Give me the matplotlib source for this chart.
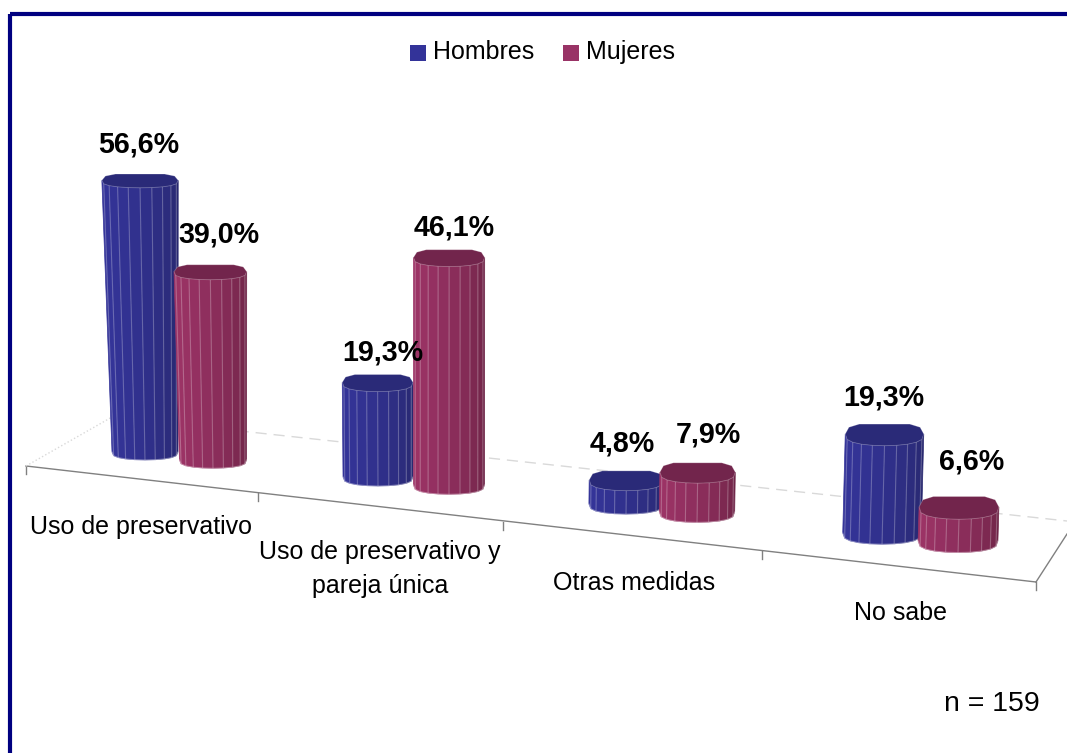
import numpy as np
import matplotlib
matplotlib.use("Agg")
import matplotlib.pyplot as plt
from matplotlib.patches import Polygon, Rectangle

plt.rcParams['font.family'] = ['Liberation Sans', 'DejaVu Sans']

# Data
categories = ["Uso de preservativo", "Uso de preservativo y\npareja única", "Otras medidas", "No sabe"]
series_names = ["Hombres", "Mujeres"]
hombres = [56.6, 19.3, 4.8, 19.3]
mujeres = [39.0, 46.1, 7.9, 6.6]

# Floor position of each cylinder, in pixels
floor_x = [[145, 378, 626, 882], [213, 449, 697, 958]]
floor_y = [[452, 477, 504, 533], [460, 485, 512, 541]]
# Offset of the value label from the top of the cylinder
label_dx = [[-1, 5, -4, -1], [9, 5, 11, 13]]
label_dy = [[-36, -30, -36, -36], [-37, -30, -38, -45]]
# Category label centres
cat_x = [141, 380, 634, 900]
cat_y = [527, 569, 583, 613]

# left/right side colours, cap colour
side_colors = [("#343499", "#28286f"), ("#9c3366", "#6e2447")]
cap_colors = ["#2a2a78", "#72254c"]
legend_colors = ["#333399", "#993366"]


def fmt(v):
    return f"{v:.1f}%".replace(".", ",")


def mix(c1, c2, t):
    a = np.array(matplotlib.colors.to_rgb(c1))
    b = np.array(matplotlib.colors.to_rgb(c2))
    return a + (b - a) * t


def ring(cx, cy, rx, ry, angles):
    # slightly squared ellipse so it looks faceted like the 3D chart
    t = np.radians(angles)
    x = cx + rx * np.cos(t)
    y = cy - ry * np.sign(np.sin(t)) * np.abs(np.sin(t)) ** 0.65
    return np.column_stack([x, y])


def cylinder(ax, bx, by, value, colors, cap):
    # projection: further right gets bigger, lines lean away from x=442
    top_x = bx + (bx - 442) * 0.000296 * value
    top_y = by - value * (4.8 + (bx - 145) * 0.00045)
    rx_bot = 33 + (bx - 145) * 0.0085
    rx_top = rx_bot + max(450 - bx, 0) * 0.0003 * value
    ry_bot = 7 + 0.0037 * (by - 181) + 0.004 * (bx - 145)
    ry_top = 7.5 + 0.0037 * (top_y - 181) + 0.0045 * (bx - 145)

    front = np.arange(180, 361, 18)
    low = ring(bx, by, rx_bot, ry_bot, front)
    up = ring(top_x, top_y, rx_top, ry_top, front)
    n = len(front) - 1
    for k in range(n):
        poly = [up[k], up[k + 1], low[k + 1], low[k]]
        col = mix(colors[0], colors[1], (k / (n - 1)) ** 1.6)
        ax.add_patch(Polygon(poly, closed=True, facecolor=col, edgecolor=col, lw=0.5, zorder=by / 100))
        if k > 0:
            ax.plot([up[k][0], low[k][0]], [up[k][1], low[k][1]], color="white", alpha=0.25, lw=0.8,
                    zorder=by / 100 + 0.001)
    # outline of the body
    ax.plot(low[:, 0], low[:, 1], color="white", alpha=0.35, lw=0.8, zorder=by / 100 + 0.001)
    back = [0, 25, 50, 130, 155, 180]
    cap_pts = np.vstack([ring(top_x, top_y, rx_top, ry_top, back), up[1:]])
    ax.add_patch(Polygon(cap_pts, closed=True, facecolor=cap, edgecolor=matplotlib.colors.to_rgba("white", 0.25),
                         lw=0.6, zorder=by / 100 + 0.002))
    return top_x, top_y


fig = plt.figure(figsize=(10.67, 7.53), dpi=100)
ax = fig.add_axes([0, 0, 1, 1])
ax.set_xlim(0, 1067)
ax.set_ylim(753, 0)
ax.axis("off")

# Frame
ax.add_patch(Rectangle((10, 14), 1100, 800, facecolor="none", edgecolor="#000080", lw=3, zorder=0.5))

# Floor of the chart
ax.plot([26, 1036], [466, 582], color="#808080", lw=1, zorder=1)
ax.plot([1036, 1067], [582, 534], color="#808080", lw=1, zorder=1)
for tx, ty in [(26, 466), (258, 493), (503, 522), (762, 551), (1036, 582)]:
    ax.plot([tx, tx], [ty, ty + 8], color="#808080", lw=1, zorder=1)
ax.plot([26, 112], [466, 417], color="#d9d9d9", lw=1, ls=":", zorder=1)
ax.plot([112, 1067], [417, 521], color="#d9d9d9", lw=1, ls=(0, (8, 5)), zorder=1)

# Cylinders
for s, values in enumerate([hombres, mujeres]):
    for i, v in enumerate(values):
        tx, ty = cylinder(ax, floor_x[s][i], floor_y[s][i], v, side_colors[s], cap_colors[s])
        ax.text(tx + label_dx[s][i], ty + label_dy[s][i], fmt(v), fontsize=20.6, fontweight="bold",
                ha="center", va="center", color="black", zorder=20)

# Category labels
for name, x, y in zip(categories, cat_x, cat_y):
    ax.text(x, y, name, fontsize=18, ha="center", va="center", color="black", zorder=20, linespacing=1.55)

# Legend
for name, sq_x, col in zip(series_names, [410, 563], legend_colors):
    ax.add_patch(Rectangle((sq_x, 45), 16, 16, facecolor=col, edgecolor="none", zorder=20))
    ax.text(sq_x + 23, 52, name, fontsize=18, ha="left", va="center", color="black", zorder=20)

ax.text(1040, 704, "n = 159", fontsize=20.5, ha="right", va="center", color="black", zorder=20)

fig.savefig("out.png", dpi=100)
